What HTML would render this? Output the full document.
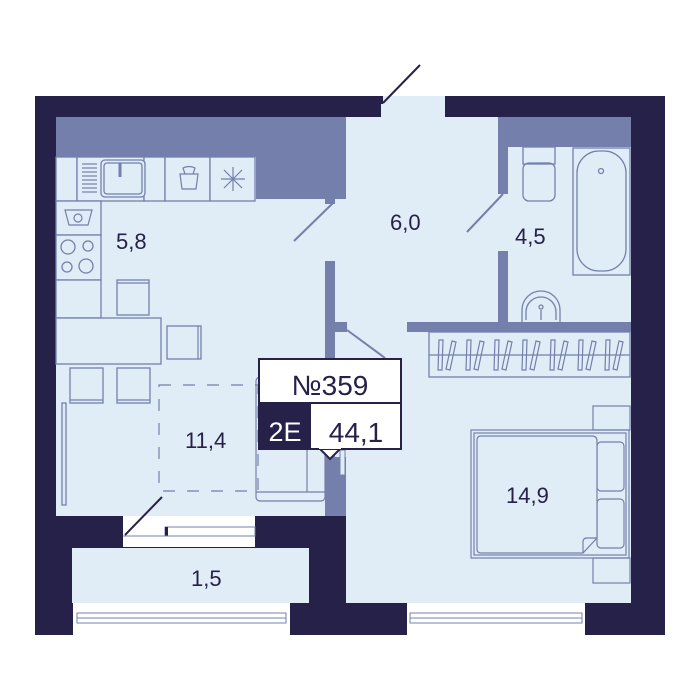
<!DOCTYPE html>
<html><head><meta charset="utf-8"><style>
html,body{margin:0;padding:0;background:#fff;}
svg{display:block;}
text{font-family:"Liberation Sans",sans-serif;fill:#262149;}
</style></head><body>
<svg width="700" height="700" viewBox="0 0 700 700" xmlns="http://www.w3.org/2000/svg">
<rect x="35" y="96" width="630" height="539" fill="#262149"/>
<rect x="381" y="96" width="64" height="21" fill="#e0ecf6"/>
<rect x="379" y="96" width="4" height="8" fill="#262149"/>
<line x1="383" y1="103" x2="420" y2="65" stroke="#262149" stroke-width="2"/>
<rect x="56" y="117" width="290" height="399" fill="#e0ecf6"/>
<rect x="335" y="117" width="163" height="215" fill="#e0ecf6"/>
<rect x="498" y="117" width="133" height="215" fill="#e0ecf6"/>
<rect x="346" y="322" width="285" height="281" fill="#e0ecf6"/>
<rect x="72" y="548" width="237" height="55" fill="#e0ecf6"/>
<rect x="123" y="516" width="132" height="31" fill="#fff"/>
<rect x="165" y="527" width="90" height="9" fill="none" stroke="#7480ab" stroke-width="1"/>
<rect x="165" y="527" width="3" height="9" fill="#262149"/>
<line x1="123" y1="536" x2="255" y2="536" stroke="#7480ab" stroke-width="1"/>
<line x1="162" y1="497" x2="125" y2="535" stroke="#262149" stroke-width="2"/>
<rect x="73" y="603" width="217" height="32" fill="#fff"/>
<rect x="77" y="613" width="209" height="10" fill="none" stroke="#7480ab" stroke-width="1"/>
<line x1="77" y1="618" x2="286" y2="618" stroke="#7480ab"/>
<rect x="407" y="603" width="178" height="32" fill="#fff"/>
<rect x="410" y="613" width="172" height="10" fill="none" stroke="#7480ab" stroke-width="1"/>
<line x1="410" y1="618" x2="582" y2="618" stroke="#7480ab"/>
<rect x="56" y="117" width="290" height="40" fill="#7480ab"/>
<rect x="256" y="117" width="90" height="82" fill="#7480ab"/>
<rect x="325" y="199" width="10" height="5" fill="#7480ab"/>
<line x1="333" y1="203" x2="294" y2="241" stroke="#7480ab" stroke-width="2"/>
<g fill="#e0ecf6" stroke="#7480ab" stroke-width="1.3">
<rect x="56" y="157" width="21" height="44"/>
<rect x="77" y="157" width="67" height="44"/>
<rect x="144" y="157" width="21" height="44"/>
<rect x="165" y="157" width="45" height="44"/>
<rect x="210" y="157" width="45" height="44"/>
<rect x="56" y="201" width="45" height="34"/>
<rect x="56" y="235" width="45" height="45"/>
<rect x="56" y="280" width="45" height="38"/>
<rect x="56" y="318" width="105" height="46"/>
<rect x="117" y="280" width="32" height="35"/>
<rect x="167" y="326" width="34" height="33"/>
<rect x="70" y="368" width="33" height="35"/>
<rect x="117" y="368" width="33" height="35"/>
<rect x="101" y="160" width="44" height="37" rx="4"/>
<rect x="104" y="163" width="38" height="31" rx="3"/>
<circle cx="68" cy="247" r="7"/><circle cx="88" cy="246" r="5"/>
<circle cx="67" cy="267" r="5"/><circle cx="86" cy="266" r="7"/>
<rect x="62" y="403" width="4" height="102"/>
</g>
<g stroke="#7480ab" stroke-width="1.2">
<line x1="82" y1="164" x2="97" y2="164"/><line x1="82" y1="168" x2="97" y2="168"/><line x1="82" y1="172" x2="97" y2="172"/><line x1="82" y1="176" x2="97" y2="176"/><line x1="82" y1="180" x2="97" y2="180"/><line x1="82" y1="184" x2="97" y2="184"/><line x1="82" y1="188" x2="97" y2="188"/><line x1="82" y1="192" x2="97" y2="192"/>
<line x1="120" y1="163" x2="120" y2="177" stroke-width="3"/>
<line x1="117" y1="283" x2="149" y2="283"/><line x1="198" y1="326" x2="198" y2="359"/>
<line x1="70" y1="400" x2="103" y2="400"/><line x1="117" y1="400" x2="150" y2="400"/>
<line x1="233" y1="167" x2="233" y2="191"/><line x1="221" y1="179" x2="245" y2="179"/><line x1="224" y1="170" x2="242" y2="188"/><line x1="242" y1="170" x2="224" y2="188"/>
</g>
<path d="M180 174 L198 174 L196 189 L182 189 Z M183 168 Q189 165 195 168 L193 174 L185 174 Z" fill="none" stroke="#7480ab" stroke-width="1.2"/>
<path d="M65 210 L92 210 L88 225 L69 225 Z" fill="none" stroke="#7480ab" stroke-width="1.2"/>
<circle cx="78" cy="218" r="4" fill="none" stroke="#7480ab" stroke-width="1.2"/>
<rect x="325" y="261" width="10" height="196" fill="#7480ab"/>
<rect x="325" y="457" width="21" height="59" fill="#7480ab"/>
<rect x="335" y="322" width="12" height="10" fill="#7480ab"/>
<line x1="347" y1="330" x2="385" y2="358" stroke="#7480ab" stroke-width="2"/>
<rect x="340" y="450" width="5" height="25" fill="#e0ecf6" stroke="#7480ab"/>
<rect x="498" y="117" width="133" height="30" fill="#7480ab"/>
<rect x="498" y="147" width="10" height="47" fill="#7480ab"/>
<rect x="498" y="251" width="10" height="71" fill="#7480ab"/>
<rect x="407" y="322" width="224" height="10" fill="#7480ab"/>
<line x1="503" y1="194" x2="467" y2="232" stroke="#7480ab" stroke-width="2"/>
<g fill="none" stroke="#7480ab" stroke-width="1.3">
<rect x="523" y="147" width="32" height="17"/>
<rect x="523" y="163" width="32" height="38" rx="6"/>
<rect x="573" y="148" width="57" height="127"/>
<rect x="577" y="151" width="49" height="120" rx="22"/>
<circle cx="601" cy="171" r="2.5"/>
<path d="M522 322 L522 310 A19 19 0 0 1 560 310 L560 322"/>
<path d="M526 320 L526 312 A15 15 0 0 1 556 312 L556 320"/>
<circle cx="541" cy="307" r="2"/>
<line x1="541" y1="310" x2="541" y2="320"/>
<rect x="429" y="332" width="201" height="45"/>
<line x1="429" y1="355" x2="630" y2="355"/>
</g>
<g fill="none" stroke="#7480ab" stroke-width="1.2">
<path d="M439 340 h4 l-1 30 h-4 z M452 341 l4 1 l-6 28 l-4 -1 z"/>
<path d="M467 340 h4 l-1 30 h-4 z M480 341 l4 1 l-6 28 l-4 -1 z"/>
<path d="M495 340 h4 l-1 30 h-4 z M508 341 l4 1 l-6 28 l-4 -1 z"/>
<path d="M523 340 h4 l-1 30 h-4 z M536 341 l4 1 l-6 28 l-4 -1 z"/>
<path d="M551 340 h4 l-1 30 h-4 z M564 341 l4 1 l-6 28 l-4 -1 z"/>
<path d="M579 340 h4 l-1 30 h-4 z M592 341 l4 1 l-6 28 l-4 -1 z"/>
<path d="M606 340 h4 l-1 30 h-4 z M619 341 l4 1 l-6 28 l-4 -1 z"/>
</g>
<rect x="159" y="385" width="99" height="106" fill="none" stroke="#7480ab" stroke-width="1.2" stroke-dasharray="12 12"/>
<g fill="none" stroke="#7480ab" stroke-width="1.2">
<rect x="256" y="377" width="69" height="124" rx="4"/>
<line x1="307" y1="450" x2="307" y2="492"/>
<line x1="256" y1="492" x2="325" y2="492"/>
<rect x="593" y="406" width="37" height="24"/>
<rect x="593" y="558" width="37" height="25"/>
<rect x="471" y="430" width="158" height="128"/>
<rect x="474" y="433" width="152" height="122"/>
<rect x="597" y="442" width="27" height="49" rx="4"/>
<rect x="597" y="499" width="27" height="49" rx="4"/>
<path d="M481 436 L592 436 Q597 436 597 441 L597 538 L583 553 L481 553 Q477 553 477 549 L477 440 Q477 436 481 436 Z" fill="#e0ecf6"/>
<path d="M597 538 L587 538 Q583 538 583 542 L583 553"/>
</g>
<text x="116" y="249" font-size="22">5,8</text>
<text x="390" y="230" font-size="22">6,0</text>
<text x="515" y="244" font-size="22">4,5</text>
<text x="185" y="448" font-size="22">11,4</text>
<text x="191" y="586" font-size="22">1,5</text>
<text x="506" y="503" font-size="22">14,9</text>
<rect x="259" y="359" width="142" height="90" fill="#fff" stroke="#262149" stroke-width="2"/>
<rect x="259" y="403" width="52" height="46" fill="#262149"/>
<line x1="259" y1="403" x2="401" y2="403" stroke="#262149" stroke-width="2"/>
<path d="M320 449 L330 459 L340 449 Z" fill="#fff" stroke="#262149" stroke-width="2"/>
<rect x="319" y="446" width="22" height="3" fill="#fff"/>
<text x="330" y="395" font-size="28" text-anchor="middle">№359</text>
<text x="285" y="441" font-size="27" text-anchor="middle" style="fill:#fff">2E</text>
<text x="356" y="442" font-size="28" text-anchor="middle">44,1</text>
</svg>
</body></html>
